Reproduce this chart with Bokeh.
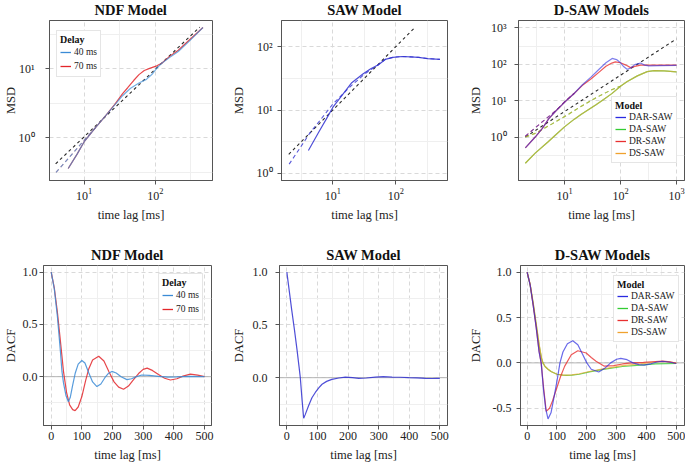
from bokeh.plotting import figure
from bokeh.models import (FixedTicker, Span, Legend, LegendItem, PrintfTickFormatter,
                          LinearAxis, LogAxis, CustomJSTickFormatter)
from bokeh.layouts import column, row
from bokeh.embed import file_html
from bokeh.resources import INLINE

FONT = "Liberation Serif"

# ---------------- NDF model, MSD ----------------
ndf_msd_t40 = [6.0, 8, 10, 14, 20, 27, 35, 45, 59, 75, 90, 105, 123, 160, 210, 300, 466]
ndf_msd_40 = [0.36, 0.58, 0.87, 1.35, 2.08, 3.0, 4.1, 5.2, 6.2, 7.0, 8.3, 10.2, 12.0, 14.6, 17.7, 25.0, 39.4]
ndf_msd_t70 = [6.0, 8, 10, 14, 20, 27, 35, 41, 50, 59, 70, 85, 105, 123, 160, 210, 300, 466]
ndf_msd_70 = [0.36, 0.58, 0.87, 1.35, 2.08, 3.05, 4.4, 5.3, 6.8, 8.2, 9.4, 10.2, 11.0, 12.0, 15.2, 18.5, 26.0, 39.4]
ndf_fit_t = [4.05, 6, 10, 15]
ndf_fit = [0.316, 0.5, 0.92, 1.45]
ndf_ref_t = [4.0, 420]
ndf_ref = [0.42, 40]

# ---------------- SAW model, MSD ----------------
saw_msd_t = [4.1, 6, 8, 10, 14, 20, 30, 40, 53, 68, 90, 124, 170, 229, 320, 502]
saw_msd = [2.3, 4.5, 7.4, 11, 17, 27, 37, 45, 52, 63, 68, 70, 69, 68, 65, 63]
saw_fit_t = [2.03, 3, 4.37, 6, 10, 18.8, 32.6, 53, 68, 90, 124, 170, 229, 320, 502]
saw_fit = [1.4, 2.5, 4.4, 6.5, 12.4, 23.3, 37.6, 52, 63, 68, 70, 69, 68, 65, 63]
saw_ref_t = [2.0, 200]
saw_ref = [2.0, 200]

# ---------------- D-SAW models, MSD ----------------
dar_msd_t = [2.0, 3, 4, 5.25, 7, 10, 15, 20.7, 30, 41, 55, 71, 85, 100, 115, 131, 150, 180, 227, 270, 320, 500, 1000]
dar_msd = [0.5, 1.0, 1.7, 3.2, 5.2, 9.0, 16, 27, 45, 72, 110, 145, 135, 110, 85, 73, 78, 98, 108, 95, 90, 92, 93]
dr_msd_t = [2.0, 3, 4, 5.25, 7, 10, 15, 20.7, 30, 41, 55, 70, 81, 100, 125, 151, 180, 230, 320, 500, 1000]
dr_msd = [0.5, 1.0, 1.7, 3.2, 5.2, 9.0, 16, 26, 40, 60, 88, 108, 116, 110, 95, 81, 88, 95, 95, 95, 95]
da_msd_t = [2.0, 3, 5, 7, 10, 15, 20, 36, 50, 70, 100, 130, 200, 300, 400, 600, 1000]
da_msd = [0.19, 0.36, 0.72, 1.15, 1.9, 3.1, 4.2, 7.6, 10.8, 15.6, 25, 33, 48, 63, 67, 66, 62]
ds_msd_t = [2.0, 3, 5, 7, 10, 15, 20, 36, 50, 70, 100, 130, 200, 300, 400, 600, 1000]
ds_msd = [0.19, 0.36, 0.72, 1.15, 1.9, 3.1, 4.2, 7.6, 10.8, 15.6, 25, 33, 48, 63, 67, 66, 62]
dr_fit_t = [2.0, 4.0, 7, 10, 15]
dr_fit = [1.05, 2.6, 5.3, 9.2, 16]
ds_fit_t = [2.0, 3, 6, 12, 20, 33, 50, 75, 100]
ds_fit = [1.0, 1.26, 2.3, 4.3, 7, 11, 15.5, 21, 25]
dsaw_ref_t = [2.0, 1000]
dsaw_ref = [1.0, 500]

# ---------------- NDF model, DACF ----------------
ndf_acf_t40 = [0, 10, 20, 30, 35, 40, 48, 56, 62, 70, 78, 88, 100, 110, 122, 135, 149, 162, 175, 186, 198,
               212, 228, 247, 262, 278, 296, 320, 350, 380, 410, 450, 500]
ndf_acf_40 = [1.0, 0.84, 0.58, 0.24, 0.05, -0.06, -0.18, -0.24, -0.2, -0.08, 0.03, 0.12, 0.155, 0.13, 0.04,
              -0.05, -0.095, -0.07, -0.01, 0.03, 0.05, 0.035, 0.0, -0.028, -0.02, 0.0, 0.016, 0.012, 0.002,
              -0.004, -0.002, 0.002, 0.0]
ndf_acf_t70 = [0, 10, 20, 30, 40, 50, 60, 70, 78, 88, 100, 112, 122, 135, 155, 172, 188, 205, 220, 236, 252,
               268, 285, 300, 313, 330, 350, 370, 389, 410, 430, 454, 478, 500]
ndf_acf_70 = [1.0, 0.85, 0.62, 0.34, 0.05, -0.15, -0.27, -0.315, -0.325, -0.29, -0.19, -0.04, 0.07, 0.16,
              0.195, 0.15, 0.05, -0.05, -0.1, -0.12, -0.09, -0.03, 0.03, 0.07, 0.082, 0.06, 0.02, -0.015,
              -0.032, -0.02, 0.005, 0.025, 0.015, 0.0]

# ---------------- SAW model, DACF ----------------
saw_acf_t = [0, 8, 16, 25, 33, 40, 44, 50, 55, 60, 71, 82, 93, 105, 115, 130, 147, 170, 191, 215, 235, 260,
             289, 315, 344, 370, 398, 425, 453, 475, 500]
saw_acf = [1.0, 0.82, 0.64, 0.45, 0.27, 0.1, 0.0, -0.22, -0.384, -0.35, -0.266, -0.19, -0.14, -0.095,
           -0.0625, -0.035, -0.016, -0.003, 0.006, 0.0, -0.006, -0.003, 0.006, 0.01, 0.006, 0.004, 0.0,
           -0.002, -0.006, -0.008, -0.006]

# ---------------- D-SAW models, DACF ----------------
dar_acf_t = [0, 10, 20, 30, 40, 47, 55, 62, 70, 80, 90, 100, 110, 120, 135, 153, 170, 185, 200, 215, 240,
             260, 280, 300, 314, 335, 355, 375, 392, 415, 435, 453, 475, 500]
dar_acf = [1.0, 0.86, 0.64, 0.4, 0.12, 0.0, -0.3, -0.5, -0.617, -0.55, -0.38, -0.2, 0.0, 0.12, 0.21, 0.243,
           0.2, 0.1, 0.0, -0.07, -0.1, -0.06, 0.0, 0.04, 0.05, 0.035, 0.0, -0.02, -0.025, -0.01, 0.01,
           0.018, 0.01, -0.007]
dr_acf_t = [0, 10, 20, 30, 40, 47, 55, 64, 75, 85, 98, 112, 126, 148, 170, 198, 215, 231, 259, 290, 320,
            350, 390, 430, 455, 480, 500]
dr_acf = [1.0, 0.86, 0.64, 0.4, 0.13, 0.0, -0.27, -0.534, -0.5, -0.42, -0.29, -0.15, -0.036, 0.09, 0.134,
          0.109, 0.06, 0.018, -0.036, -0.03, -0.012, 0.0, 0.005, 0.015, 0.02, 0.012, -0.005]
da_acf_t = [0, 10, 20, 30, 40, 48, 53, 60, 70, 80, 100, 120, 131, 150, 175, 209, 250, 320, 380, 431, 500]
da_acf = [1.0, 0.86, 0.66, 0.43, 0.2, 0.05, 0.0, -0.04, -0.07, -0.095, -0.125, -0.135, -0.138, -0.135,
          -0.125, -0.1, -0.075, -0.04, -0.025, -0.011, -0.007]
ds_acf_t = [0, 10, 20, 30, 40, 48, 53, 60, 70, 80, 100, 120, 131, 150, 175, 209, 250, 320, 380, 430, 460, 500]
ds_acf = [1.0, 0.87, 0.67, 0.44, 0.21, 0.06, 0.0, -0.04, -0.07, -0.095, -0.125, -0.135, -0.136, -0.132,
          -0.12, -0.095, -0.068, -0.03, -0.01, 0.01, 0.015, 0.0]

# tick positions
log_ticks = [1, 10, 100, 1000]
log_grid_minor = [0.316, 3.16, 31.6, 316, 3162]
lin_xticks = [0, 100, 200, 300, 400, 500]
lin_xminor = [50, 150, 250, 350, 450]
lin_yticks = [-0.5, 0.0, 0.5, 1.0]
lin_yminor = [-0.25, 0.25, 0.75]

C40, C70 = "#3b8bd6", "#e3262a"
CSAW = "#2f2fd0"
CDAR, CDA, CDR, CDS = "#2a2ae0", "#33cc33", "#e83030", "#f0a22e"
CREF = "#2a2a2a"
AX = "#555555"

POW10 = CustomJSTickFormatter(code="""
const sup = ["\\u2070", "\\u00b9", "\\u00b2", "\\u00b3"];
const e = Math.round(Math.log10(tick));
return "10" + sup[e];
""")


def make(width, height, bl, br, bt, bb, xr, yr, log, title, ylabel, xticks, yticks,
         xg, xgm, yg, ygm, ymls, yals, xmls, xals):
    kw = dict(width=width, height=height, x_range=xr, y_range=yr, title=None,
              output_backend="svg", toolbar_location=None,
              min_border_left=bl, min_border_right=br, min_border_top=bt, min_border_bottom=bb,
              background_fill_color="white", border_fill_color="white")
    if log:
        kw.update(x_axis_type="log", y_axis_type="log")
    p = figure(**kw)
    p.outline_line_color = AX
    p.outline_line_width = 1
    p.xaxis.axis_label = "time lag [ms]"
    p.yaxis.axis_label = ylabel
    p.xaxis.ticker = FixedTicker(ticks=xticks)
    p.yaxis.ticker = FixedTicker(ticks=yticks)
    if log:
        p.yaxis.formatter = POW10
    else:
        p.yaxis.formatter = PrintfTickFormatter(format="%.1f")
    for ax in (p.xaxis[0], p.yaxis[0]):
        ax.axis_line_color = AX
        ax.major_tick_line_color = AX
        ax.major_tick_out = 4
        ax.major_tick_in = 0
        ax.minor_tick_line_color = None
        ax.major_label_text_font = FONT
        ax.major_label_text_font_size = "12px"
        ax.major_label_text_color = "#222222"
        ax.axis_label_text_font = FONT
        ax.axis_label_text_font_size = "12.5px"
        ax.axis_label_text_font_style = "normal"
        ax.axis_label_text_color = "#222222"
    p.xaxis.major_label_standoff = xmls
    p.xaxis.axis_label_standoff = xals
    p.yaxis.major_label_standoff = ymls
    p.yaxis.axis_label_standoff = yals
    p.xgrid.ticker = FixedTicker(ticks=xg, minor_ticks=xgm)
    p.ygrid.ticker = FixedTicker(ticks=yg, minor_ticks=ygm)
    for g in (p.xgrid[0], p.ygrid[0]):
        g.grid_line_color = "#d9d9d9"
        g.grid_line_dash = "4 3"
        g.grid_line_width = 1
        g.minor_grid_line_color = "#efefef"
    # panel title: label of a tick-less axis above the frame
    tax = (LogAxis if log else LinearAxis)(axis_label=title, ticker=FixedTicker(ticks=[]))
    tax.axis_line_color = None
    tax.major_tick_line_color = None
    tax.minor_tick_line_color = None
    tax.major_tick_out = 0
    tax.major_tick_in = 0
    tax.major_label_standoff = 0
    tax.axis_label_standoff = 3
    tax.axis_label_text_font = FONT
    tax.axis_label_text_font_size = "14.5px"
    tax.axis_label_text_font_style = "bold"
    tax.axis_label_text_color = "#111111"
    p.add_layout(tax, "above")
    return p


def legend(p, title, entries, loc, margin, lh):
    items = []
    for lab, col, xs, ys in entries:
        r = p.line(xs[:1], ys[:1], line_color=col, line_width=1.3)
        items.append(LegendItem(label=lab, renderers=[r]))
    lg = Legend(items=items, title=title, location=loc, margin=margin,
                padding=3, spacing=0, glyph_width=11, glyph_height=lh, label_height=lh,
                label_standoff=3, title_standoff=0,
                label_text_font=FONT, label_text_font_size="9.5px", label_text_color="#222222",
                title_text_font=FONT, title_text_font_size="10px", title_text_font_style="bold",
                title_text_color="#111111",
                border_line_color="#cccccc", border_line_width=1,
                background_fill_color="white", background_fill_alpha=1.0)
    p.add_layout(lg)


LW = 1.2

# ---- top left: NDF MSD ----
p1 = make(228, 242, 46, 16, 20, 60, (3.28, 634), (0.241, 49.8), True, "NDF Model", "MSD",
          [10, 100], [1, 10], log_ticks, log_grid_minor, log_ticks, log_grid_minor, 11, -2, 3, 5)
p1.line(ndf_ref_t, ndf_ref, line_color=CREF, line_dash="3 3", line_width=1.1)
p1.line(ndf_fit_t, ndf_fit, line_color=C70, line_dash="4 3", line_width=1.1, line_alpha=0.5)
p1.line(ndf_fit_t, ndf_fit, line_color=C40, line_dash="4 3", line_width=1.1, line_alpha=0.7)
p1.line(ndf_msd_t70, ndf_msd_70, line_color=C70, line_width=LW, line_alpha=0.85)
p1.line(ndf_msd_t40, ndf_msd_40, line_color=C40, line_width=LW, line_alpha=0.7)
legend(p1, "Delay", [("40 ms", C40, ndf_msd_t40, ndf_msd_40), ("70 ms", C70, ndf_msd_t70, ndf_msd_70)],
       (7, 103), 0, 14)

# ---- top middle: SAW MSD ----
p2 = make(237, 242, 53, 18, 20, 60, (1.535, 661), (0.773, 259), True, "SAW Model", "MSD",
          [10, 100], [1, 10, 100], log_ticks, log_grid_minor, log_ticks, log_grid_minor, 5, 8, 3, 5)
p2.line(saw_ref_t, saw_ref, line_color=CREF, line_dash="3 3", line_width=1.1)
p2.line(saw_fit_t, saw_fit, line_color=CSAW, line_dash="4 3", line_width=1.1, line_alpha=0.8)
p2.line(saw_msd_t, saw_msd, line_color=CSAW, line_width=LW, line_alpha=0.85)

# ---- top right: D-SAW MSD ----
p3 = make(220, 242, 53, 1, 20, 60, (1.51, 1390), (0.0637, 1600), True, "D-SAW Models", "MSD",
          [10, 100, 1000], [1, 10, 100, 1000], log_ticks, log_grid_minor, log_ticks, log_grid_minor,
          8, 5, 3, 5)
p3.line(dsaw_ref_t, dsaw_ref, line_color=CREF, line_dash="3 3", line_width=1.1)
p3.line(ds_fit_t, ds_fit, line_color=CDA, line_dash="4 3", line_width=1.1, line_alpha=0.8)
p3.line(ds_fit_t, ds_fit, line_color=CDS, line_dash="4 3", line_width=1.1, line_alpha=0.6)
p3.line(dr_fit_t, dr_fit, line_color=CDR, line_dash="4 3", line_width=1.1, line_alpha=0.8)
p3.line(dr_fit_t, dr_fit, line_color=CDAR, line_dash="4 3", line_width=1.1, line_alpha=0.6)
p3.line(da_msd_t, da_msd, line_color=CDA, line_width=LW, line_alpha=0.8)
p3.line(ds_msd_t, ds_msd, line_color=CDS, line_width=LW, line_alpha=0.6)
p3.line(dr_msd_t, dr_msd, line_color=CDR, line_width=LW, line_alpha=0.8)
p3.line(dar_msd_t, dar_msd, line_color=CDAR, line_width=LW, line_alpha=0.6)
legend(p3, "Model", [("DAR-SAW", CDAR, dar_msd_t, dar_msd), ("DA-SAW", CDA, da_msd_t, da_msd),
                     ("DR-SAW", CDR, dr_msd_t, dr_msd), ("DS-SAW", CDS, ds_msd_t, ds_msd)],
       (93, 17), 0, 12)

# ---- bottom left: NDF DACF ----
q1 = make(228, 226, 43, 17, 25, 41, (-25.2, 523), (-0.467, 1.063), False, "NDF Model", "DACF",
          lin_xticks, lin_yticks, lin_xticks, lin_xminor, lin_yticks, lin_yminor, 2, 2, 2, 5)
q1.add_layout(Span(location=0, dimension="width", line_color="#b5b5b5", line_width=1, level="underlay"))
q1.line(ndf_acf_t70, ndf_acf_70, line_color=C70, line_width=LW, line_alpha=0.85)
q1.line(ndf_acf_t40, ndf_acf_40, line_color=C40, line_width=LW, line_alpha=0.85)
legend(q1, "Delay", [("40 ms", C40, ndf_acf_t40, ndf_acf_40), ("70 ms", C70, ndf_acf_t70, ndf_acf_70)],
       "top_right", 8, 14)

# ---- bottom middle: SAW DACF ----
q2 = make(237, 226, 51, 18, 25, 41, (-24, 525), (-0.453, 1.0625), False, "SAW Model", "DACF",
          lin_xticks, lin_yticks, lin_xticks, lin_xminor, lin_yticks, lin_yminor, 8, 4, 2, 5)
q2.add_layout(Span(location=0, dimension="width", line_color="#b5b5b5", line_width=1, level="underlay"))
q2.line(saw_acf_t, saw_acf, line_color=CSAW, line_width=LW, line_alpha=0.85)

# ---- bottom right: D-SAW DACF ----
q3 = make(220, 226, 54, 1, 25, 41, (-22.3, 527.7), (-0.69, 1.073), False, "D-SAW Models", "DACF",
          lin_xticks, lin_yticks, lin_xticks, lin_xminor, lin_yticks, lin_yminor, 5, 7, 2, 5)
q3.add_layout(Span(location=0, dimension="width", line_color="#b5b5b5", line_width=1, level="underlay"))
q3.line(da_acf_t, da_acf, line_color=CDA, line_width=LW, line_alpha=0.8)
q3.line(ds_acf_t, ds_acf, line_color=CDS, line_width=LW, line_alpha=0.7)
q3.line(dr_acf_t, dr_acf, line_color=CDR, line_width=LW, line_alpha=0.8)
q3.line(dar_acf_t, dar_acf, line_color=CDAR, line_width=LW, line_alpha=0.7)
legend(q3, "Model", [("DAR-SAW", CDAR, dar_acf_t, dar_acf), ("DA-SAW", CDA, da_acf_t, da_acf),
                     ("DR-SAW", CDR, dr_acf_t, dr_acf), ("DS-SAW", CDS, ds_acf_t, ds_acf)],
       (93, 83), 0, 12)

root = column(row(p1, p2, p3), row(q1, q2, q3))
root.styles = {"position": "absolute", "top": "-2px", "left": "0px"}

open("out.html", "w").write(file_html(root, INLINE))
